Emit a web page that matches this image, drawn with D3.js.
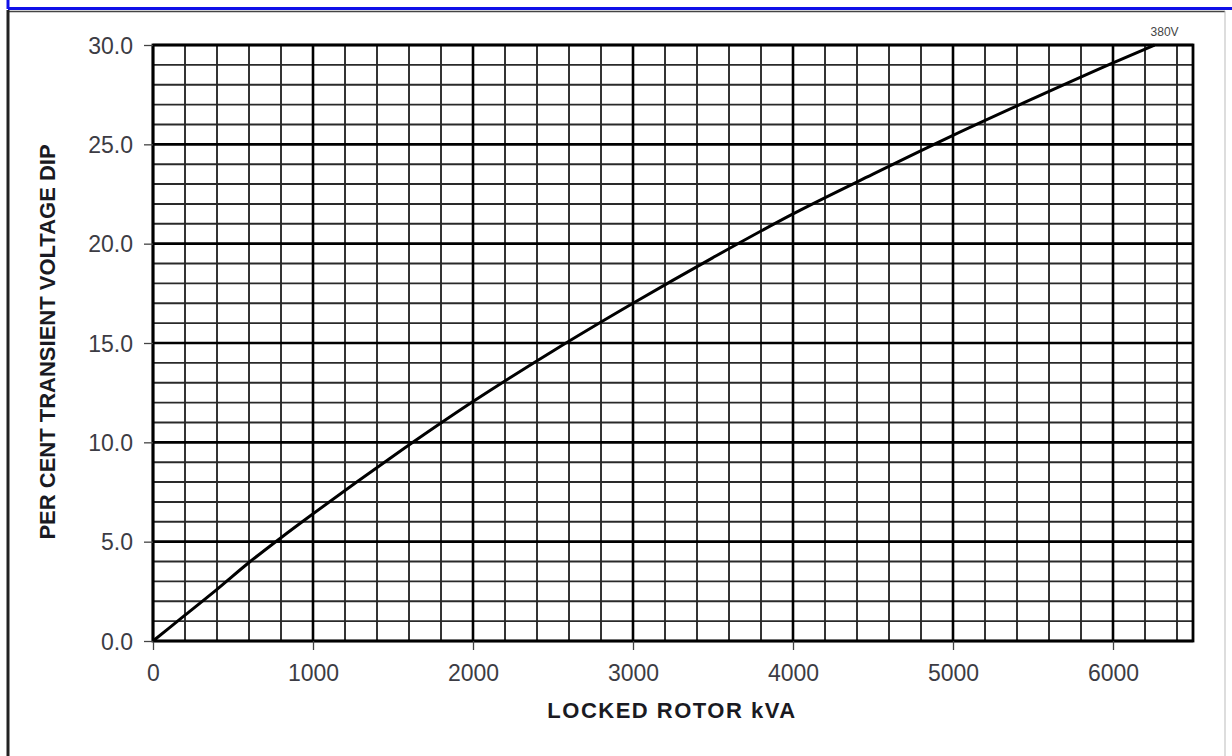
<!DOCTYPE html>
<html>
<head>
<meta charset="utf-8">
<script src="https://cdn.jsdelivr.net/npm/d3@7/dist/d3.min.js"></script>
<style>
  html, body { margin: 0; padding: 0; background: #fff; }
  svg { display: block; }
</style>
</head>
<body>
<svg id="chart" width="1232" height="756"></svg>
<script>
// Locked rotor kVA vs per cent transient voltage dip (380V curve)
const kva = [0, 200, 400, 600, 800, 1000, 1500, 2000, 2500, 3000, 3500, 4000, 4500, 5000, 5500, 6000, 6260];
const dip = [0, 1.3, 2.6, 3.95, 5.2, 6.4, 9.3, 12.05, 14.6, 17.0, 19.3, 21.5, 23.5, 25.45, 27.3, 29.1, 30.0];

const xTickValues = [0, 1000, 2000, 3000, 4000, 5000, 6000];
const yTickValues = [0, 5, 10, 15, 20, 25, 30];
const seriesLabel = "380V";
const xTitle = "LOCKED ROTOR kVA";
const yTitle = "PER CENT TRANSIENT VOLTAGE DIP";

const svg = d3.select("#chart");

const x = d3.scaleLinear().domain([0, 6500]).range([153, 1193]);
const y = d3.scaleLinear().domain([0, 30]).range([641, 45]);

// page frame
svg.append("line").attr("x1", 8).attr("x2", 1240).attr("y1", 8.5).attr("y2", 8.5)
  .attr("stroke", "#1010e8").attr("stroke-width", 3);
svg.append("line").attr("x1", 8).attr("x2", 8).attr("y1", -2).attr("y2", 9)
  .attr("stroke", "#1010e8").attr("stroke-width", 3);
svg.append("line").attr("x1", 8).attr("x2", 1225).attr("y1", 11.5).attr("y2", 11.5)
  .attr("stroke", "#444").attr("stroke-width", 1.5);
svg.append("line").attr("x1", 8).attr("x2", 8).attr("y1", 10).attr("y2", 760)
  .attr("stroke", "#222").attr("stroke-width", 3);
svg.append("line").attr("x1", 1225).attr("x2", 1225).attr("y1", 11).attr("y2", 760)
  .attr("stroke", "#bbb").attr("stroke-width", 1);

const grid = svg.append("g");

// minor grid
const minorX = d3.range(0, 6501, 200).filter(v => v % 1000 !== 0);
const minorY = d3.range(0, 31, 1).filter(v => v % 5 !== 0);
grid.selectAll(".vx").data(minorX).join("line")
  .attr("x1", d => x(d)).attr("x2", d => x(d))
  .attr("y1", y(0)).attr("y2", y(30))
  .attr("stroke", "#2a2a2a").attr("stroke-width", 1.9);
grid.selectAll(".hy").data(minorY).join("line")
  .attr("x1", x(0)).attr("x2", x(6500))
  .attr("y1", d => y(d)).attr("y2", d => y(d))
  .attr("stroke", "#2a2a2a").attr("stroke-width", 1.9);

// major grid
grid.selectAll(".VX").data(xTickValues).join("line")
  .attr("x1", d => x(d)).attr("x2", d => x(d))
  .attr("y1", y(0)).attr("y2", y(30))
  .attr("stroke", "#000").attr("stroke-width", 2.6);
grid.selectAll(".HY").data(yTickValues).join("line")
  .attr("x1", x(0)).attr("x2", x(6500))
  .attr("y1", d => y(d)).attr("y2", d => y(d))
  .attr("stroke", "#000").attr("stroke-width", 2.6);

// plot border
svg.append("rect")
  .attr("x", x(0)).attr("y", y(30))
  .attr("width", x(6500) - x(0)).attr("height", y(0) - y(30))
  .attr("fill", "none").attr("stroke", "#000").attr("stroke-width", 2.8);

// axes
const xAxis = d3.axisBottom(x).tickValues(xTickValues).tickFormat(d3.format("d"))
  .tickSize(9).tickPadding(15);
const yAxis = d3.axisLeft(y).tickValues(yTickValues).tickFormat(d3.format(".1f"))
  .tickSize(9).tickPadding(11);

const gx = svg.append("g").attr("transform", `translate(0,${y(0)})`).call(xAxis);
const gy = svg.append("g").attr("transform", `translate(${x(0)},0)`).call(yAxis);
[gx, gy].forEach(g => {
  g.select(".domain").remove();
  g.selectAll(".tick line").attr("stroke", "#444").attr("stroke-width", 1.3);
  g.selectAll(".tick text")
    .attr("font-family", "Liberation Sans, Arial, sans-serif")
    .attr("font-size", 23).attr("fill", "#3c3c44");
});
gy.selectAll(".tick text").attr("dy", "0.36em");

// curve
const pts = kva.map((k, i) => [k, dip[i]]);
svg.append("path")
  .datum(pts)
  .attr("fill", "none").attr("stroke", "#000").attr("stroke-width", 3)
  .attr("d", d3.line().x(d => x(d[0])).y(d => y(d[1])).curve(d3.curveMonotoneX));

// series label
svg.append("text")
  .attr("x", x(kva[kva.length - 1]) + 10).attr("y", y(30) - 9)
  .attr("text-anchor", "middle")
  .attr("font-family", "Liberation Sans, Arial, sans-serif")
  .attr("font-size", 12).attr("fill", "#444")
  .text(seriesLabel);

// titles
svg.append("text")
  .attr("x", 672).attr("y", 718)
  .attr("text-anchor", "middle")
  .attr("font-family", "Liberation Sans, Arial, sans-serif")
  .attr("font-weight", "bold").attr("font-size", 22).attr("letter-spacing", 1.5)
  .attr("fill", "#1a1a22")
  .text(xTitle);

svg.append("text")
  .attr("transform", "translate(55,342) rotate(-90)")
  .attr("text-anchor", "middle")
  .attr("font-family", "Liberation Sans, Arial, sans-serif")
  .attr("font-weight", "bold").attr("font-size", 22).attr("fill", "#1a1a22")
  .text(yTitle);
</script>
</body>
</html>
